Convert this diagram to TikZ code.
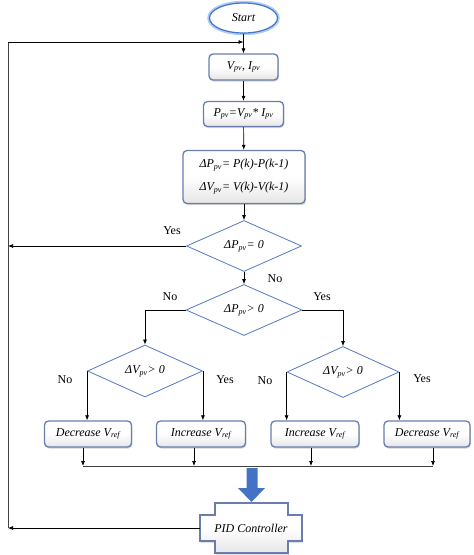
\documentclass[tikz,border=0pt]{standalone}
\usepackage{fontspec}
\setmainfont{Liberation Serif}
\usetikzlibrary{shapes.geometric,shadows,arrows.meta}
\definecolor{boxblue}{RGB}{105,125,175}
\definecolor{diablue}{RGB}{85,120,190}
\definecolor{startblue}{RGB}{70,115,200}
\definecolor{glow}{RGB}{175,205,240}
\definecolor{bigarrow}{RGB}{68,114,196}
\begin{document}
\begin{tikzpicture}[x=1pt,y=-1pt,
  font=\itshape\fontsize{12}{14}\selectfont,
  procbox/.style={draw=boxblue, line width=1.3pt, rounded corners=4pt,
    top color=white, bottom color=black!10, middle color=white,
    drop shadow={opacity=0.35,shadow xshift=0.8pt,shadow yshift=-1.5pt},
    inner sep=0pt, minimum height=26pt},
  decision/.style={diamond, draw=diablue, line width=0.8pt, inner sep=0pt},
  arr/.style={-{Latex[length=5pt,width=4pt]}, line width=0.7pt},
  plain/.style={line width=0.7pt, draw=black!75},
  lbl/.style={font=\upshape\fontsize{12}{14}\selectfont}]
\useasboundingbox (0,0) rectangle (474,555);

\node[ellipse, draw=startblue, line width=1.2pt, fill=white,
  preaction={draw=glow, line width=4.5pt},
  minimum width=68pt, minimum height=30pt, inner sep=0pt] (start) at (243.5,18) {Start};
\node[procbox, minimum width=69pt] (v) at (243.5,67) {V\textsubscript{pv}, I\textsubscript{pv}};
\node[procbox, minimum width=80pt, minimum height=25pt] (p) at (243.5,114) {P\textsubscript{pv}=V\textsubscript{pv}* I\textsubscript{pv}};
\node[procbox, minimum width=122pt, minimum height=53pt, align=center] (dp) at (244,177)
  {ΔP\textsubscript{pv}= P(k)-P(k-1)\\[9pt]ΔV\textsubscript{pv}= V(k)-V(k-1)};

\node[decision, minimum width=115pt, minimum height=51pt] (d1) at (244,246) {ΔP\textsubscript{pv}= 0};
\node[decision, minimum width=116pt, minimum height=50pt] (d2) at (244,310) {ΔP\textsubscript{pv}> 0};
\node[decision, minimum width=115pt, minimum height=52pt] (d3) at (145,371) {ΔV\textsubscript{pv}> 0};
\node[decision, minimum width=112pt, minimum height=51pt] (d4) at (343,372) {ΔV\textsubscript{pv}> 0};

\node[procbox, minimum width=87pt] (b1) at (88,434) {Decrease V\textsubscript{ref}};
\node[procbox, minimum width=89pt] (b2) at (201,434) {Increase V\textsubscript{ref}};
\node[procbox, minimum width=88pt] (b3) at (315,434) {Increase V\textsubscript{ref}};
\node[procbox, minimum width=86pt] (b4) at (427,434) {Decrease V\textsubscript{ref}};

% PID controller shape
\path[draw=boxblue, line width=1.3pt, top color=white, bottom color=black!10, middle color=white,
  drop shadow={opacity=0.35,shadow xshift=0.8pt,shadow yshift=-1.5pt}]
  (200,515) -- (215,515) -- (215,503) -- (288,503) -- (288,515) -- (302,515)
  -- (302,541) -- (288,541) -- (288,553) -- (215,553) -- (215,541) -- (200,541) -- cycle;
\node[minimum width=102pt, minimum height=26pt, inner sep=0pt] (pid) at (251,528) {PID Controller};

% coordinates
\coordinate (tl) at (8,42);
\coordinate (tm) at (tl -| v.north);
\coordinate (m1) at (83,466);
\coordinate (m2) at (194,466);
\coordinate (m3) at (311,466);
\coordinate (m4) at (433,466);

% main flow
\draw[arr] (start) -- (v);
\draw[arr] (v) -- (p);
\draw[arr] (p) -- (dp);
\draw[arr] (dp) -- (d1);
\draw[arr] (d1) -- (d2);
\draw[arr] (d1.west) -- (d1.west -| tl);
\draw[arr] (d2.west) -| (d3.north);
\draw[arr] (d2.east) -| (d4.north);
\draw[arr] (d3.west) -- (d3.west |- b1.north);
\draw[arr] (d3.east) -- (d3.east |- b2.north);
\draw[arr] (d4.west) -- (d4.west |- b3.north);
\draw[arr] (d4.east) -- (d4.east |- b4.north);

% bus
\draw[plain] (m1) -- (m4);
\draw[arr] (b1.south -| m1) -- (m1);
\draw[arr] (b2.south -| m2) -- (m2);
\draw[arr] (b3.south -| m3) -- (m3);
\draw[arr] (b4.south -| m4) -- (m4);

% big arrow
\fill[bigarrow] (246.5,468) -- (257.5,468) -- (257.5,488) -- (265,488) -- (251.5,502)
  -- (238,488) -- (246.5,488) -- cycle;

% feedback loop
\draw[arr] (pid.west) -- (pid.west -| tl);
\draw[plain] (pid.west -| tl) -- (tl);
\draw[arr] (tl) -- (tm);

% labels
\node[lbl] (y1) at (172,231) {Yes};
\node[lbl] (n1) at (275,279) {No};
\node[lbl] (n2) at (170,297) {No};
\node[lbl] (y2) at (322,297) {Yes};
\node[lbl] (n3) at (65,380) {No};
\node[lbl] (y3) at (225,380) {Yes};
\node[lbl] (n4) at (265,381) {No};
\node[lbl] (y4) at (422,379) {Yes};
\end{tikzpicture}
\end{document}
